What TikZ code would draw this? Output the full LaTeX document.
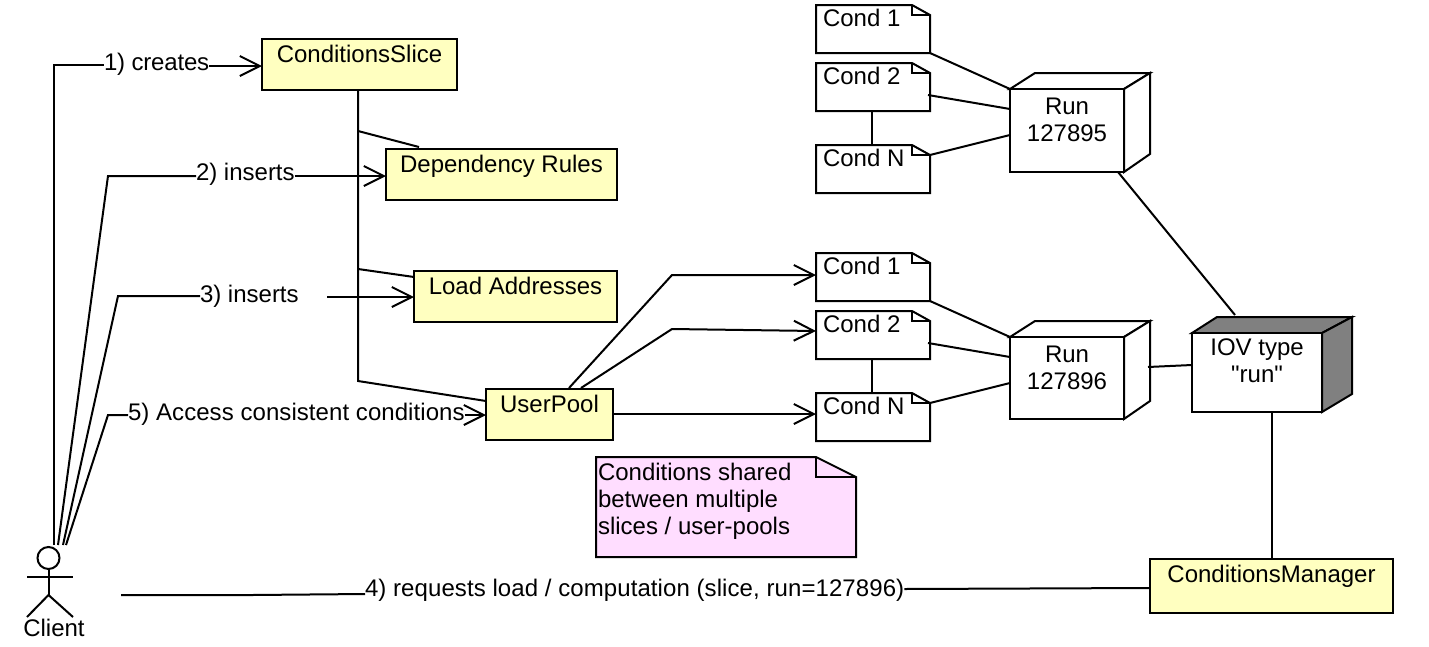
\documentclass[tikz,border=0pt]{standalone}
\usepackage{fontspec}
\setmainfont{Liberation Sans}
\newfontfamily\straightq{Liberation Sans}
\usetikzlibrary{arrows.meta}
\newcommand\bodytxt[5]{\parbox[c][#2pt][t]{#1pt}{\fontsize{24}{27}\selectfont #4\rule{0pt}{#3pt}#5}}
\newcommand\umlbox[7]{% name x y w h baseline text
  \node[cls] (#1) at (#2,#3) {\bodytxt{#4}{#5}{#6}{\centering}{#7}};}
\newcommand\condnote[4]{% name x y text
  \begin{scope}[shift={(#2,#3)}]
    \draw[fill=white] (0,0)--(96,0)--(114,10)--(114,48)--(0,48)--cycle;
    \draw (96,0)--(96,10)--(114,10);
    \node[plainbox] (#1) at (0,0) {\bodytxt{114}{48}{21}{\hspace*{7pt}}{#4}};
  \end{scope}}
\newcommand\cube[9]{% name x y w h baseline text sidefill depth
  \begin{scope}[shift={(#2,#3)}]
    \draw[fill=#8] (0,0)--(25,-16)--(#4+#9,-16)--(#4,0)--cycle;
    \draw[fill=#8] (#4,0)--(#4+#9,-16)--(#4+#9,#5-18)--(#4,#5)--cycle;
    \node[frontbox] (#1) at (0,0) {\bodytxt{#4}{#5}{#6}{\centering}{#7}};
  \end{scope}}
\definecolor{noteyellow}{RGB}{255,255,192}
\definecolor{notepink}{RGB}{255,221,255}
\definecolor{cubegray}{RGB}{128,128,128}
\tikzset{
  frontbox/.style={draw,fill=white,inner sep=0pt,outer sep=0pt,anchor=north west},
  plainbox/.style={inner sep=0pt,outer sep=0pt,anchor=north west},
  cls/.style={frontbox,fill=noteyellow},
  lbl/.style={inner sep=0pt,outer sep=0pt,anchor=base west,font=\fontsize{24}{27}\selectfont},
  arr/.style={-{Straight Barb[length=20pt,width=20pt]}},
  wire/.style={line join=miter}
}
\begin{document}
\begin{tikzpicture}[x=1pt,y=-1pt,line width=2pt]
\useasboundingbox (0,0) rectangle (1429,646);
\fill[white] (0,0) rectangle (1429,646);
% yellow classes
\umlbox{slice}{262}{39}{195}{51}{23}{ConditionsSlice}
\umlbox{deps}{386}{149}{231}{51}{23}{Dependency Rules}
\umlbox{load}{414}{271}{203}{51}{23}{Load Addresses}
\umlbox{pool}{486}{389}{127}{51}{23}{UserPool}
\umlbox{mgr}{1150}{559}{243}{54}{23}{ConditionsManager}
% conditions
\condnote{ca}{816}{5}{Cond 1}
\condnote{cb}{816}{63}{Cond 2}
\condnote{cn}{816}{145}{Cond N}
\condnote{da}{816}{253}{Cond 1}
\condnote{db}{816}{311}{Cond 2}
\condnote{dn}{816}{393}{Cond N}
% cubes
\cube{runa}{1010}{89}{114}{83}{25}{Run\\127895}{white}{26}
\cube{runb}{1010}{337}{114}{82}{25}{Run\\127896}{white}{26}
\cube{iov}{1192}{333}{130}{79}{22}{IOV type\\{\straightq "run"}}{cubegray}{30}
% note
\draw[fill=notepink] (596,457)--(816,457)--(856,477)--(856,557)--(596,557)--cycle;
\draw (816,457)--(816,477)--(856,477);
\node[plainbox] (note) at (596,457) {\bodytxt{260}{100}{23}{\hspace*{2pt}}{Conditions shared\\\hspace*{2pt}between multiple\\\hspace*{2pt}slices / user-pools}};
% actor
\node[circle,draw,minimum size=22pt,inner sep=0pt,outer sep=0pt] (head) at (48.5,558) {};
\coordinate (hip) at (48.5,595);
\draw (head.south) -- (hip);
\draw ([shift={(-21.5,-18)}]hip) -- ([shift={(24.5,-18)}]hip);
\draw ([shift={(-21.5,22)}]hip) -- (hip) -- ([shift={(24.5,22)}]hip);
\node[lbl,anchor=base] (client) at (54,636) {Client};
% labels
\node[lbl] (la) at (104,70) {\addfontfeatures{LetterSpace=-0.8}1) creates};
\node[lbl] (lb) at (196,180) {2) inserts};
\node[lbl] (lc) at (200,302) {3) inserts};
\node[lbl] (le) at (128,420) {\addfontfeatures{LetterSpace=0.28}5) Access consistent conditions};
\node[lbl] (ld) at (365,596) {\addfontfeatures{LetterSpace=0.35}4) requests load / computation (slice, run=127896)};
% client connectors
\coordinate (s1) at ([shift={(5.5,-13)}]head.center);
\coordinate (s2) at ([shift={(9.5,-13)}]head.center);
\coordinate (s3) at ([shift={(14.5,-13)}]head.center);
\coordinate (s5) at ([shift={(17.5,-13)}]head.center);
\coordinate (b1) at (54,65);
\coordinate (b2) at (108,176);
\coordinate (b3) at (118,296);
\coordinate (b5) at (108,415);
\draw[wire] (s1) -- (b1) -- ([shift={(0,-5)}]la.base west);
\draw[arr] ([shift={(0,-4)}]la.base east) -- ([shift={(0,27)}]slice.north west);
\draw[wire] (s2) -- (b2) -- ([shift={(0,-4)}]lb.base west);
\draw[arr] ([shift={(0,-4)}]lb.base east) -- ([shift={(0,27)}]deps.north west);
\draw[wire] (s3) -- (b3) -- ([shift={(0,-6)}]lc.base west);
\coordinate (c3) at (327,297);
\draw[arr] (c3) -- ([shift={(0,26)}]load.north west);
\draw[wire] (s5) -- (b5) -- ([shift={(0,-5)}]le.base west);
\draw[arr] ([shift={(0,-5)}]le.base east) -- ([shift={(0,26)}]pool.north west);
\coordinate (s4) at (121,595);
\coordinate (b4) at (252,595);
\draw (s4) -- (b4) -- ([shift={(0,-2)}]ld.base west);
\draw ([shift={(0,-7)}]ld.base east) -- ([shift={(0,29)}]mgr.north west);
% slice tree
\coordinate (t1) at (358,131);
\coordinate (t2) at (358,269);
\coordinate (t3) at (358,381);
\draw[wire] ([shift={(96,0)}]slice.south west) -- (t3) -- ([shift={(0,12)}]pool.north west);
\draw (t1) -- ([shift={(33,-2)}]deps.north west);
\draw (t2) -- ([shift={(0,6)}]load.north west);
% userpool to conds
\coordinate (u1) at (672,275);
\coordinate (u2) at (672,329);
\draw[wire,arr] ([shift={(83,-1)}]pool.north west) -- (u1) -- ([shift={(0,22)}]da.north west);
\draw[wire,arr] ([shift={(95,-1)}]pool.north west) -- (u2) -- ([shift={(0,20)}]db.north west);
\draw[arr] ([shift={(0,25)}]pool.north east) -- ([shift={(0,21)}]dn.north west);
% conds to runs
\draw (ca.south east) -- (runa.north west);
\draw ([shift={(-2,32)}]cb.north east) -- ([shift={(0,20)}]runa.north west);
\draw ([shift={(0,10)}]cn.north east) -- ([shift={(0,46)}]runa.north west);
\draw ([shift={(56,0)}]cb.south west) -- ([shift={(56,0)}]cn.north west);
\draw (da.south east) -- (runb.north west);
\draw ([shift={(-2,32)}]db.north east) -- ([shift={(0,20)}]runb.north west);
\draw ([shift={(0,10)}]dn.north east) -- ([shift={(0,46)}]runb.north west);
\draw ([shift={(56,0)}]db.south west) -- ([shift={(56,0)}]dn.north west);
% runs to iov
\draw ([shift={(-6,0)}]runa.south east) -- ([shift={(43,-18)}]iov.north west);
\draw ([shift={(24,30)}]runb.north east) -- ([shift={(0,32)}]iov.north west);
\draw ([shift={(80,0)}]iov.south west) -- ([shift={(122,0)}]mgr.north west);
\end{tikzpicture}
\end{document}
